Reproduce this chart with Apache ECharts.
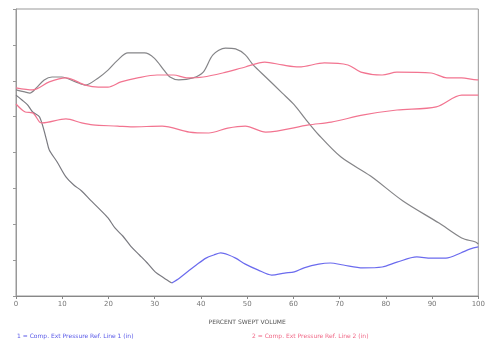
<!DOCTYPE html>
<html><head><meta charset="utf-8">
<script src="https://cdn.jsdelivr.net/npm/echarts@6/dist/echarts.min.js"></script>
<style>html,body{margin:0;padding:0;background:#fff}#c{width:488px;height:353px}</style>
</head><body><div id="c"></div>
<script>
// Values: x = percent swept volume, y = relative pressure (0-100 scale, unlabeled)
const xTicks = [0,10,20,30,40,50,60,70,80,90,100];
const xAxisName = "PERCENT SWEPT VOLUME";
const legend1 = "1 = Comp. Ext Pressure Ref. Line 1 (in)";
const legend2 = "2 = Comp. Ext Pressure Ref. Line 2 (in)";

const line1X = [0,1.3,2.5,3.6,5.1,6.6,7.2,8.9,10.8,12.5,14.2,16.1,17.8,19.9,21.4,23.1,24.8,26.7,28.4,30.1,32.0,33.7,35.4,37.3,39.0,41.1,42.8,44.3,46.0,47.5,49.6,52.3,55.3,58.1,60.2,62.3,65.5,68.0,70.8,75.0,79.2,82.4,86.7,89.8,93.0,96.2,98.3,100];
const line1Y = [70.0,68.3,66.6,64.1,62.4,54.4,50.9,46.7,41.5,38.7,36.6,33.4,30.7,27.2,23.7,20.9,17.4,14.3,11.5,8.4,6.3,4.5,6.3,8.7,10.8,13.2,14.3,15.0,14.3,13.2,11.1,9.1,7.3,8.0,8.4,9.8,11.1,11.5,10.8,9.8,10.1,11.8,13.6,13.2,13.2,15.0,16.4,17.1];
const line1GrayUntil = 33.7; // descending part of line 1 is drawn dark grey

const refX = [0,1.9,3.0,4.4,6.1,7.8,9.9,12.9,15.0,17.8,19.9,22.0,24.2,27.8,29.9,32.0,33.3,35.2,38.3,40.5,42.6,45.3,47.5,49.6,51.3,54.0,57.6,60.2,62.5,65.5,70.3,76.7,83.7,91.5,96.4,99.4,100];
const refY = [71.8,71.1,70.7,72.5,75.3,76.3,76.3,74.6,73.5,76.0,78.7,82.2,84.7,84.7,82.9,78.7,76.3,75.3,76.0,78.0,84.0,86.4,86.1,84.0,80.5,76.3,70.7,66.6,61.9,56.1,48.4,41.8,33.1,25.4,20.2,18.8,18.1];

const line2aX = [0,3.6,7.2,10.8,15.0,17.8,19.9,22.7,26.3,30.5,34.1,36.9,40.5,44.7,49.6,53.8,57.6,61.2,66.7,71.8,74.6,79.2,82.4,89.8,93.2,96.4,99.7,100];
const line2aY = [72.5,71.8,74.6,76.0,73.5,72.8,72.8,74.6,76.0,77.0,77.0,76.0,76.3,77.7,79.8,81.5,80.5,79.8,81.2,80.5,78.0,77.0,78.0,77.7,76.0,76.0,75.3,75.3];

const line2bX = [0,2.0,3.6,5.1,5.7,10.8,14.2,16.6,22.0,24.8,31.6,37.5,41.7,45.8,49.6,54.0,63.3,68.2,75.2,82.4,90.9,96.4,99.7,100];
const line2bY = [66.9,64.1,63.8,60.6,60.3,61.7,60.3,59.6,59.2,58.9,59.2,57.1,56.8,58.5,59.2,57.1,59.6,60.6,63.1,64.8,65.9,70.0,70.0,70.0];

function pairs(xs, ys){ return xs.map((x,i)=>[x, ys[i]]); }
const line1All = pairs(line1X, line1Y);
const line1Gray = line1All.filter(p => p[0] <= line1GrayUntil);
const line1Blue = line1All.filter(p => p[0] >= line1GrayUntil);

const chart = echarts.init(document.getElementById('c'), null, {renderer:'canvas'});
chart.setOption({
  animation:false,
  backgroundColor:'#fff',
  grid:{left:16, right:0, top:9, bottom:57, show:true, borderColor:'#999', borderWidth:1, backgroundColor:'transparent'},
  xAxis:{type:'value', min:0, max:100, interval:10,
    name:xAxisName, nameLocation:'middle', nameGap:23,
    nameTextStyle:{fontSize:6, color:'#555', fontFamily:'DejaVu Sans'},
    axisLine:{lineStyle:{color:'#888'}}, axisTick:{show:true, length:3, lineStyle:{color:'#888'}},
    axisLabel:{fontSize:7, color:'#777', margin:5, fontFamily:'DejaVu Sans'}, splitLine:{show:false}},
  yAxis:{type:'value', min:0, max:100, interval:12.5,
    axisLine:{show:true, lineStyle:{color:'#999'}}, axisTick:{show:true, length:3, lineStyle:{color:'#999'}},
    axisLabel:{show:false}, splitLine:{show:false}},
  series:[
    {name:'Line 1 (grey part)', type:'line', data:line1Gray, smooth:0.3, showSymbol:false, lineStyle:{width:1.2, color:'#7a7a80'}},
    {name:'Line 1', type:'line', data:line1Blue, smooth:0.3, showSymbol:false, lineStyle:{width:1.2, color:'#6b6bee'}},
    {name:'Ref', type:'line', data:pairs(refX,refY), smooth:0.3, showSymbol:false, lineStyle:{width:1.2, color:'#858588'}},
    {name:'Line 2a', type:'line', data:pairs(line2aX,line2aY), smooth:0.3, showSymbol:false, lineStyle:{width:1.2, color:'#f27490'}},
    {name:'Line 2b', type:'line', data:pairs(line2bX,line2bY), smooth:0.3, showSymbol:false, lineStyle:{width:1.2, color:'#f27490'}}
  ],
  graphic:[
    {type:'text', left:17, top:333, style:{text:legend1, fill:'#5a5ae8', fontSize:6, fontFamily:'DejaVu Sans'}},
    {type:'text', left:252, top:333, style:{text:legend2, fill:'#f06a88', fontSize:6, fontFamily:'DejaVu Sans'}}
  ]
});
</script></body></html>
